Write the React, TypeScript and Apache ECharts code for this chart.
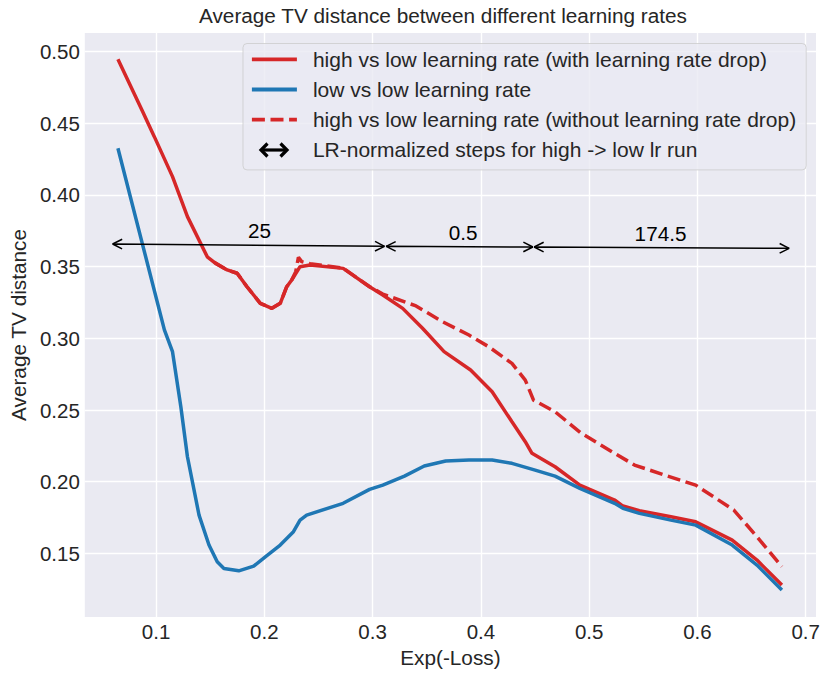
import React, { useEffect, useRef } from "react";
import * as echarts from "echarts";

// ---- data ----
const redX = [0.0648, 0.0877, 0.0984, 0.1152, 0.129, 0.1473, 0.155, 0.1657, 0.1749, 0.184, 0.1963, 0.207, 0.2147, 0.2207, 0.2253, 0.233, 0.2422, 0.2728, 0.2972, 0.3094, 0.3278, 0.3461, 0.366, 0.3905, 0.4104, 0.4287, 0.441, 0.4472, 0.4685, 0.4914, 0.5235, 0.5312, 0.5464, 0.5755, 0.5984, 0.6321, 0.655, 0.678];
const redY = [0.4947, 0.4581, 0.4407, 0.4128, 0.3849, 0.3569, 0.3523, 0.3477, 0.3454, 0.336, 0.3244, 0.3209, 0.3244, 0.336, 0.3407, 0.35, 0.3512, 0.3488, 0.336, 0.3302, 0.3209, 0.307, 0.2907, 0.2779, 0.2627, 0.2418, 0.2279, 0.2198, 0.2104, 0.1976, 0.1872, 0.183, 0.1797, 0.1755, 0.172, 0.1592, 0.1453, 0.1279];

const blueX = [0.0648, 0.1077, 0.1152, 0.1229, 0.129, 0.1397, 0.1489, 0.1565, 0.1627, 0.1764, 0.1902, 0.2009, 0.2147, 0.2269, 0.233, 0.2391, 0.2728, 0.2972, 0.3094, 0.3294, 0.3477, 0.3675, 0.389, 0.4104, 0.4287, 0.4501, 0.4685, 0.4914, 0.5235, 0.5312, 0.5464, 0.5755, 0.5984, 0.6321, 0.655, 0.678];
const blueY = [0.4326, 0.3059, 0.2907, 0.2523, 0.2174, 0.1767, 0.1558, 0.1441, 0.1395, 0.1378, 0.1411, 0.1476, 0.1558, 0.1651, 0.1732, 0.1767, 0.1849, 0.1946, 0.1976, 0.2039, 0.2109, 0.2144, 0.2151, 0.2151, 0.2128, 0.2081, 0.2039, 0.1953, 0.1849, 0.1814, 0.1779, 0.1732, 0.1697, 0.1558, 0.1418, 0.1244];

const dashX = [0.1537, 0.1657, 0.1749, 0.184, 0.1963, 0.207, 0.2147, 0.2207, 0.2253, 0.229, 0.2315, 0.2345, 0.2422, 0.2728, 0.2972, 0.3094, 0.3401, 0.3645, 0.389, 0.4073, 0.4287, 0.441, 0.4486, 0.4685, 0.4929, 0.5235, 0.5419, 0.5725, 0.5984, 0.6336, 0.655, 0.678];
const dashY = [0.353, 0.3477, 0.3454, 0.336, 0.3244, 0.3209, 0.3244, 0.336, 0.3407, 0.3465, 0.3565, 0.3535, 0.352, 0.349, 0.336, 0.3309, 0.3226, 0.3116, 0.3023, 0.2941, 0.2825, 0.2709, 0.2569, 0.2488, 0.2337, 0.2198, 0.2116, 0.2039, 0.1976, 0.1802, 0.1616, 0.1407];

// LR-normalized step annotations
const arrowX1 = [0.0599, 0.3125, 0.4492];
const arrowY1 = [0.3658, 0.3642, 0.3637];
const arrowX2 = [0.311, 0.448, 0.6847];
const arrowY2 = [0.3642, 0.3637, 0.3628];
const arrowLabelX = [0.1955, 0.3836, 0.5659];
const arrowLabelY = [0.3754, 0.3736, 0.3731];
const arrowLabels = ["25", "0.5", "174.5"];

const xTicks = [0.1, 0.2, 0.3, 0.4, 0.5, 0.6, 0.7];
const yTicks = [0.15, 0.2, 0.25, 0.3, 0.35, 0.4, 0.45, 0.5];

const seriesNames = [
  "high vs low learning rate (with learning rate drop)",
  "low vs low learning rate",
  "high vs low learning rate (without learning rate drop)",
  "LR-normalized steps for high -> low lr run",
];

const FONT = "'Liberation Sans', Arial, sans-serif";
const TXT = "#262626";
const RED = "#d62728";
const BLUE = "#1f77b4";

const zip = (xs: number[], ys: number[]) => xs.map((x, i) => [x, ys[i]]);

export default function App() {
  const ref = useRef<HTMLDivElement>(null);
  useEffect(() => {
    document.body.style.margin = "0";
    const chart = echarts.init(ref.current!, null, { renderer: "svg" });
    const arrowData = arrowX1.map((_, i) => [
      arrowX1[i], arrowY1[i], arrowX2[i], arrowY2[i], arrowLabelX[i], arrowLabelY[i],
    ]);
    const arrowStyle = { stroke: "#000", lineWidth: 3.2, fill: "none", lineCap: "butt" };
    const option: any = {
      animation: false,
      backgroundColor: "#ffffff",
      title: {
        text: "Average TV distance between different learning rates",
        left: 199,
        top: 5,
        padding: 0,
        textStyle: { fontFamily: FONT, fontSize: 20.75, fontWeight: "normal", color: TXT },
      },
      grid: {
        left: 80, top: 33, right: 14, bottom: 59,
        show: true, backgroundColor: "#EAEAF2", borderWidth: 0,
      },
      xAxis: {
        type: "value",
        min: 0.0342,
        max: 0.7095,
        name: "Exp(-Loss)",
        nameLocation: "middle",
        nameGap: 27,
        nameTextStyle: { fontFamily: FONT, fontSize: 20.75, color: TXT },
        axisLine: { show: false },
        axisTick: { show: false, customValues: xTicks },
        axisLabel: {
          customValues: xTicks,
          formatter: (v: number) => v.toFixed(1),
          fontFamily: FONT, fontSize: 20.5, color: TXT, margin: 4,
        },
        splitLine: { show: true, lineStyle: { color: "#ffffff", width: 1.4 } },
      },
      yAxis: {
        type: "value",
        min: 0.1056,
        max: 0.513,
        name: "Average TV distance",
        nameLocation: "middle",
        nameGap: 54,
        nameTextStyle: { fontFamily: FONT, fontSize: 20.75, color: TXT },
        axisLine: { show: false },
        axisTick: { show: false, customValues: yTicks },
        axisLabel: {
          customValues: yTicks,
          formatter: (v: number) => v.toFixed(2),
          fontFamily: FONT, fontSize: 20.5, color: TXT, margin: 5,
        },
        splitLine: { show: true, lineStyle: { color: "#ffffff", width: 1.4 } },
      },
      legend: {
        orient: "vertical",
        left: 243,
        top: 43.5,
        padding: [5.3, 10, 9.5, 7],
        itemWidth: 45,
        itemHeight: 14,
        itemGap: 9.2,
        backgroundColor: "rgba(234,234,242,0.8)",
        borderColor: "rgba(204,204,204,0.8)",
        borderWidth: 1,
        borderRadius: 4,
        selectedMode: false,
        itemStyle: { opacity: 0 },
        lineStyle: { width: 3.8 },
        textStyle: { fontFamily: FONT, fontSize: 21, color: TXT, padding: [0, 0, 0, 11] },
        data: [
          seriesNames[0],
          seriesNames[1],
          seriesNames[2],
          { name: seriesNames[3], icon: "none" },
        ],
      },
      graphic: [
        { type: "line", z: 100, shape: { x1: 261, y1: 150, x2: 287, y2: 150 }, style: arrowStyle },
        { type: "polyline", z: 100, shape: { points: [[267.5, 143.5], [261, 150], [267.5, 156.5]] }, style: arrowStyle },
        { type: "polyline", z: 100, shape: { points: [[280.5, 143.5], [287, 150], [280.5, 156.5]] }, style: arrowStyle },
      ],
      series: [
        {
          name: seriesNames[0], type: "line", data: zip(redX, redY), symbol: "none",
          lineStyle: { color: RED, width: 3.5 }, itemStyle: { color: RED }, z: 3,
        },
        {
          name: seriesNames[1], type: "line", data: zip(blueX, blueY), symbol: "none",
          lineStyle: { color: BLUE, width: 3.5 }, itemStyle: { color: BLUE }, z: 3,
        },
        {
          name: seriesNames[2], type: "line", data: zip(dashX, dashY), symbol: "none",
          lineStyle: { color: RED, width: 3.5, type: [13, 5.6] }, itemStyle: { color: RED }, z: 3,
        },
        {
          name: seriesNames[3], type: "custom", z: 4,
          itemStyle: { color: "rgba(0,0,0,0)" },
          dimensions: ["x1", "y1", "x2", "y2", "lx", "ly"],
          encode: { x: [0, 2, 4], y: [1, 3, 5] },
          data: arrowData,
          clip: false,
          renderItem: (params: any, api: any) => {
            const p1 = api.coord([api.value(0), api.value(1)]);
            const p2 = api.coord([api.value(2), api.value(3)]);
            const lp = api.coord([api.value(4), api.value(5)]);
            const dx = p2[0] - p1[0];
            const dy = p2[1] - p1[1];
            const len = Math.hypot(dx, dy) || 1;
            const ux = dx / len, uy = dy / len;
            const nx = -uy, ny = ux;
            const hl = 9.5, hw = 4.8;
            const wing = (t: number[], dir: number, s: number) => [
              t[0] + dir * ux * hl + s * nx * hw,
              t[1] + dir * uy * hl + s * ny * hw,
            ];
            const st = { stroke: "#000", lineWidth: 1.5, fill: "none", lineJoin: "miter" };
            return {
              type: "group",
              children: [
                {
                  type: "polyline",
                  shape: { points: [wing(p1, 1, 1), [p1[0], p1[1]], [p2[0], p2[1]], wing(p2, -1, 1)] },
                  style: st,
                },
                {
                  type: "polyline",
                  shape: { points: [wing(p1, 1, -1), [p1[0], p1[1]]] },
                  style: st,
                },
                {
                  type: "polyline",
                  shape: { points: [wing(p2, -1, -1), [p2[0], p2[1]]] },
                  style: st,
                },
                {
                  type: "text",
                  x: lp[0], y: lp[1],
                  style: {
                    text: arrowLabels[params.dataIndex],
                    fontFamily: FONT, fontSize: 20.7, fill: "#000",
                    align: "center", verticalAlign: "middle",
                  },
                },
              ],
            };
          },
        },
      ],
    };
    chart.setOption(option);
    return () => chart.dispose();
  }, []);
  return <div ref={ref} style={{ width: 830, height: 676 }} />;
}
